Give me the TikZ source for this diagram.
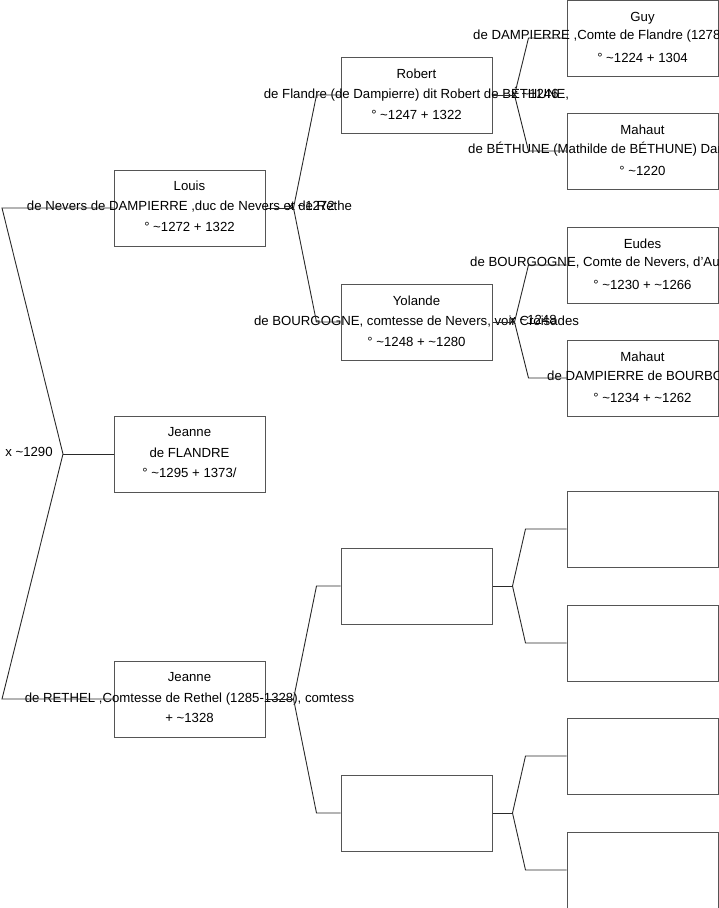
\documentclass[tikz,border=0pt]{standalone}
\usepackage{fontspec}
\setmainfont{Liberation Sans}
\usetikzlibrary{positioning, calc}
\definecolor{gdBoxS}{HTML}{555555}
\definecolor{gdLineS}{HTML}{2A2A2A}
\newcommand{\gdfont}{\fontsize{13.2}{20.5}\selectfont}
\tikzset{
  gdPerson/.style={rectangle, draw=gdBoxS, line width=1pt,
                   minimum width=151pt, minimum height=76pt, inner sep=0pt},
  gdText/.style={align=center, font=\gdfont, inner sep=0pt},
  gdWide/.style={font=\gdfont, inner sep=0pt, anchor=west},
  gdSpouse/.style={font=\gdfont, inner sep=0pt},
  gdLink/.style={draw=gdLineS, line width=0.9pt},
}

\begin{document}
\begin{tikzpicture}[x=1pt, y=-1pt]
  \useasboundingbox (0,0) rectangle (719,908);
  \clip (0,0) rectangle (719,908);

  % --- generation 1 -------------------------------------------------------
  \node[gdPerson] (louis)   at (189.5,208) {};
  \node[gdPerson] (jeanneF) at (189.5,454) {};
  \node[gdPerson] (rethel)  at (189.5,699) {};

  % --- generation 2 -------------------------------------------------------
  \node[gdPerson] (robert)  at (416.5,95)  {};
  \node[gdPerson] (yolande) at (416.5,322) {};
  \node[gdPerson] (rethelF) at (416.5,586) {};
  \node[gdPerson] (rethelM) at (416.5,813) {};

  % --- generation 3 (cut by the right edge) -------------------------------
  \node[gdPerson] (guy)      at (642.5,38)  {};
  \node[gdPerson] (mahaut)   at (642.5,151) {};
  \node[gdPerson] (eudes)    at (642.5,265) {};
  \node[gdPerson] (mahautB)  at (642.5,378) {};
  \node[gdPerson] (rethelFF) at (642.5,529) {};
  \node[gdPerson] (rethelFM) at (642.5,643) {};
  \node[gdPerson] (rethelMF) at (642.5,756) {};
  \node[gdPerson] (rethelMM) at (642.5,870) {};

  % --- texts --------------------------------------------------------------
  \node[gdText] (tLouis) at (189.5,206)
    {Louis\\de Nevers de DAMPIERRE ,duc de Nevers et de Rethe\\° \textasciitilde1272 + 1322};
  \node[gdText] (tJeanneF) at (189.5,453)
    {Jeanne\\de FLANDRE\\° \textasciitilde1295 + 1373/};
  \node[gdText] (tRethel) at (189.5,698)
    {Jeanne\\de RETHEL ,Comtesse de Rethel (1285-1328), comtess\\+ \textasciitilde1328};
  \node[gdText] (tRobert) at (416.5,94)
    {Robert\\de Flandre (de Dampierre) dit Robert de BÉTHUNE,\\° \textasciitilde1247 + 1322};
  \node[gdText] (tYolande) at (416.5,321)
    {Yolande\\de BOURGOGNE, comtesse de Nevers, voir Croisades\\° \textasciitilde1248 + \textasciitilde1280};

  \node[gdText] (tGuy) at (642.5,37) {Guy\\\mbox{}\\° \textasciitilde1224 + 1304};
  \node[gdWide] (wGuy) at (473,36) {de DAMPIERRE ,Comte de Flandre (1278-1305)};
  \node[gdText] (tMahaut) at (642.5,150) {Mahaut\\\mbox{}\\° \textasciitilde1220};
  \node[gdWide] (wMahaut) at (468,149) {de BÉTHUNE (Mathilde de BÉTHUNE) Dame};
  \node[gdText] (tEudes) at (642.5,264) {Eudes\\\mbox{}\\° \textasciitilde1230 + \textasciitilde1266};
  \node[gdWide] (wEudes) at (470,263) {de BOURGOGNE, Comte de Nevers, d'Auxerre};
  \node[gdText] (tMahautB) at (642.5,377) {Mahaut\\\mbox{}\\° \textasciitilde1234 + \textasciitilde1262};
  \node[gdWide] (wMahautB) at (547,376) {de DAMPIERRE de BOURBON};

  % --- marriages ----------------------------------------------------------
  \node[gdSpouse] (xRoot)    at (29,452)  {x \textasciitilde1290};
  \node[gdSpouse] (xLouis)   at (311,206) {x \textasciitilde1272};
  \node[gdSpouse] (xRobert)  at (535,94)  {x \textasciitilde1246};
  \node[gdSpouse] (xYolande) at (533,320) {x \textasciitilde1248};

  % --- links: root ---------------------------------------------------------
  \coordinate (root)  at (63,454);
  \coordinate (rootU) at (2,208);
  \coordinate (rootD) at (2,699);
  \draw[gdLink] (louis.west) -- (rootU) -- (root) -- (rootD) -- (rethel.west);
  \draw[gdLink] (root) -- (jeanneF.west);

  % --- links: generation 1 to 2 -------------------------------------------
  \coordinate (fLouis)  at ($(louis.east)+(28,0)$);
  \coordinate (fRethel) at ($(rethel.east)+(28,0)$);
  \draw[gdLink] (louis.east) -- (fLouis);
  \draw[gdLink] (fLouis) -- ([xshift=-24pt]robert.west) -- (robert.west);
  \draw[gdLink] (fLouis) -- ([xshift=-24pt]yolande.west) -- (yolande.west);
  \draw[gdLink] (rethel.east) -- (fRethel);
  \draw[gdLink] (fRethel) -- ([xshift=-24pt]rethelF.west) -- (rethelF.west);
  \draw[gdLink] (fRethel) -- ([xshift=-24pt]rethelM.west) -- (rethelM.west);

  % --- links: generation 2 to 3 -------------------------------------------
  \coordinate (fRobert)  at ($(robert.east)+(22,0)$);
  \coordinate (fYolande) at ($(yolande.east)+(22,0)$);
  \coordinate (fRethelF) at ($(rethelF.east)+(20,0)$);
  \coordinate (fRethelM) at ($(rethelM.east)+(20,0)$);
  \draw[gdLink] (robert.east) -- (fRobert);
  \draw[gdLink] (fRobert) -- ([xshift=-38pt]guy.west) -- (guy.west);
  \draw[gdLink] (fRobert) -- ([xshift=-38pt]mahaut.west) -- (mahaut.west);
  \draw[gdLink] (yolande.east) -- (fYolande);
  \draw[gdLink] (fYolande) -- ([xshift=-38pt]eudes.west) -- (eudes.west);
  \draw[gdLink] (fYolande) -- ([xshift=-38pt]mahautB.west) -- (mahautB.west);
  \draw[gdLink] (rethelF.east) -- (fRethelF);
  \draw[gdLink] (fRethelF) -- ([xshift=-41pt]rethelFF.west) -- (rethelFF.west);
  \draw[gdLink] (fRethelF) -- ([xshift=-41pt]rethelFM.west) -- (rethelFM.west);
  \draw[gdLink] (rethelM.east) -- (fRethelM);
  \draw[gdLink] (fRethelM) -- ([xshift=-41pt]rethelMF.west) -- (rethelMF.west);
  \draw[gdLink] (fRethelM) -- ([xshift=-41pt]rethelMM.west) -- (rethelMM.west);
\end{tikzpicture}
\end{document}
